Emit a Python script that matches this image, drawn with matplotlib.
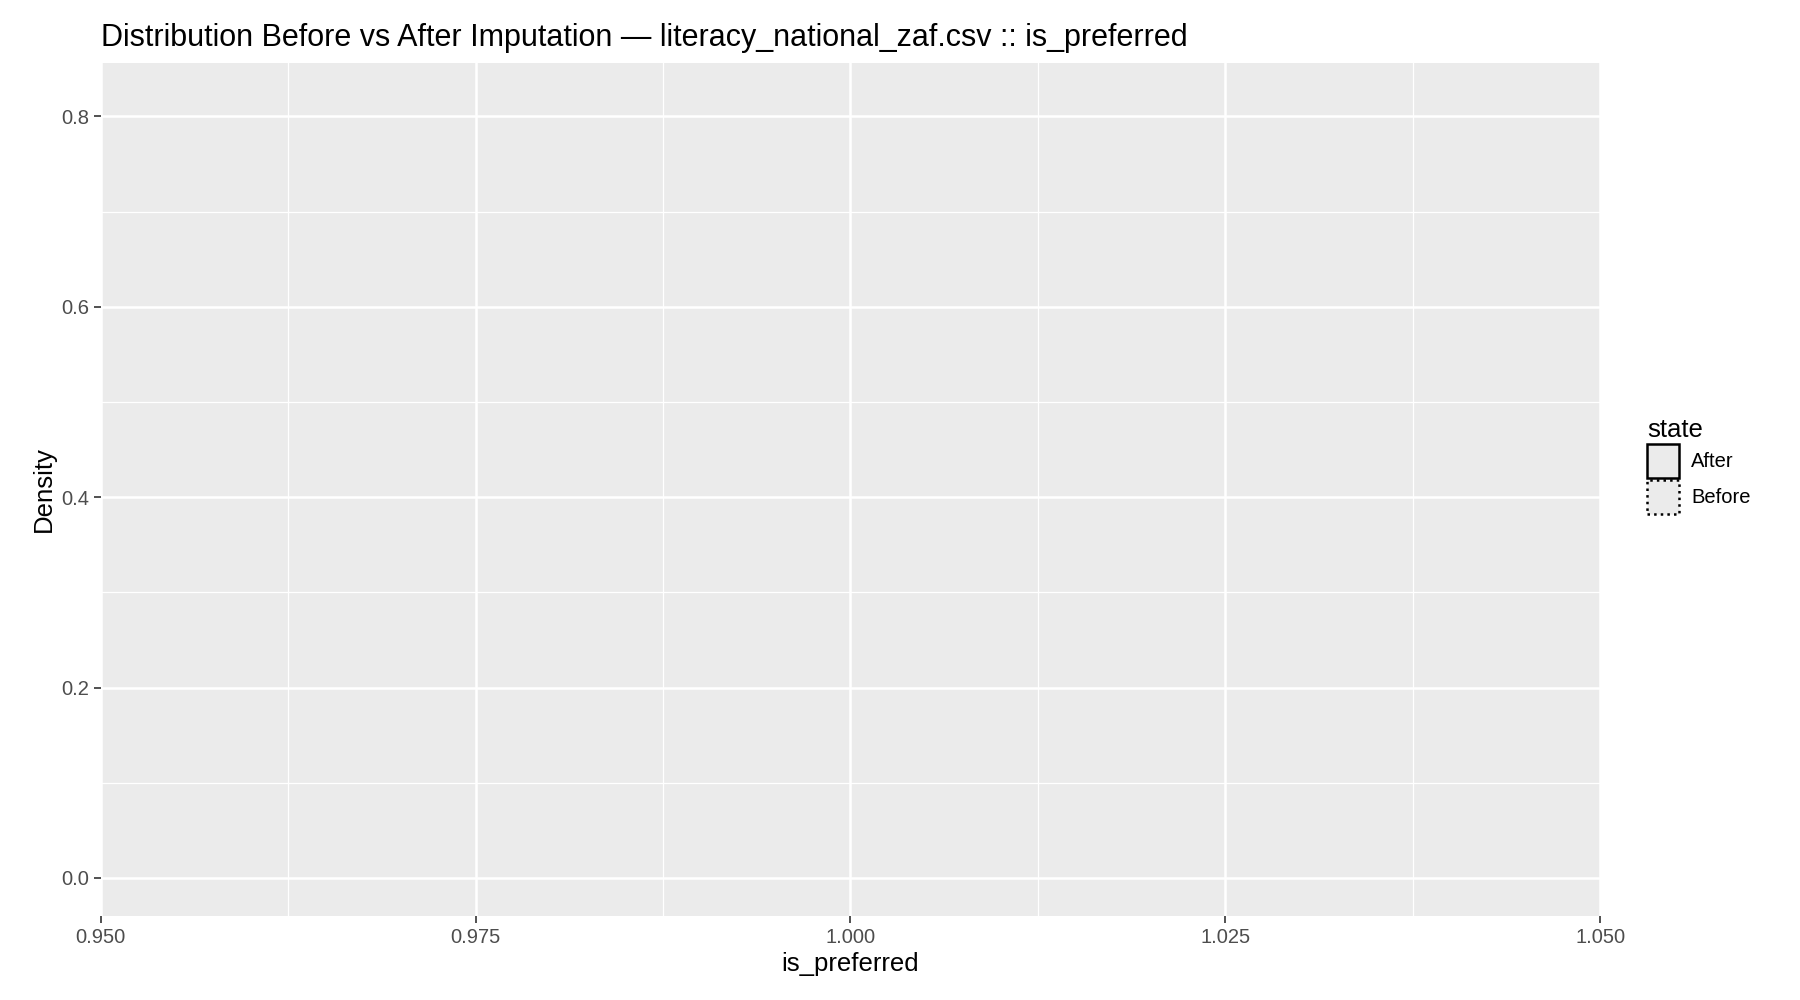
import matplotlib
matplotlib.use("Agg")
import matplotlib.pyplot as plt
from matplotlib.patches import Patch

# no values survive in either state, so the panel is empty
states = ["After", "Before"]
state_styles = ["-", ":"]
after_values = []
before_values = []
x_ticks = [0.950, 0.975, 1.000, 1.025, 1.050]
y_ticks = [0.0, 0.2, 0.4, 0.6, 0.8]

plt.rcParams['font.family'] = ['Liberation Sans', 'DejaVu Sans']
fig = plt.figure(figsize=(18, 10), dpi=100)
ax = fig.add_axes([0.056, 0.084, 0.833, 0.853])
ax.set_facecolor('#EBEBEB')
for s in ax.spines.values():
    s.set_visible(False)

for vals, ls in zip([after_values, before_values], state_styles):
    if vals:
        ax.hist(vals, density=True, histtype='step', color='black', linestyle=ls)

ax.set_xlim(0.95, 1.05)
ax.set_ylim(-0.04, 0.856)
ax.set_xticks(x_ticks)
ax.set_xticklabels([f"{v:.3f}" for v in x_ticks])
ax.set_yticks(y_ticks)
ax.set_yticklabels([f"{v:.1f}" for v in y_ticks])
ax.set_xticks([0.9625, 0.9875, 1.0125, 1.0375], minor=True)
ax.set_yticks([0.1, 0.3, 0.5, 0.7], minor=True)
ax.grid(which='major', color='white', linewidth=1.8)
ax.grid(which='minor', color='white', linewidth=0.9)
ax.set_axisbelow(True)
ax.tick_params(which='major', length=5, width=1.2, color='#333333', labelsize=14.5, labelcolor='#4D4D4D')
ax.tick_params(which='minor', length=0)
ax.set_xlabel("is_preferred", fontsize=18.5)
ax.set_ylabel("Density", fontsize=18.5)
ax.set_title("Distribution Before vs After Imputation \u2014 literacy_national_zaf.csv :: is_preferred",
             fontsize=22, loc='left', x=0.0, pad=12)

handles = [Patch(facecolor='#EBEBEB', edgecolor='black', linestyle=ls, linewidth=1.8, label=s)
           for s, ls in zip(states, state_styles)]
leg = fig.legend(handles=handles, title="state", loc='upper left', bbox_to_anchor=(0.905, 0.60),
                 frameon=False, fontsize=14.5, title_fontsize=18.5, handlelength=1.6, handleheight=2.2,
                 labelspacing=0.1, handletextpad=0.6)
leg._legend_box.align = "left"

fig.savefig("out.png", dpi=100)
